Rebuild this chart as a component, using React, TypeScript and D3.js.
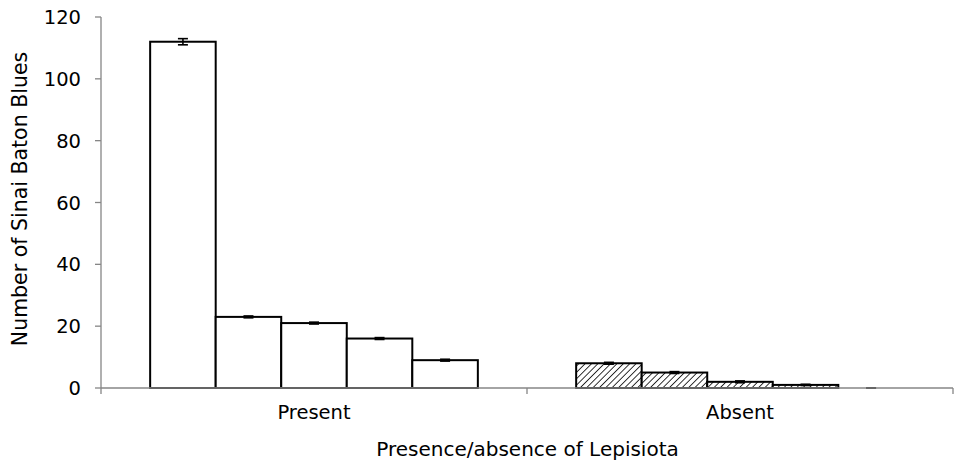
import React from "react";
import * as d3 from "d3";

// Category groups and per-series counts (five series in each group)
const categories = ["Present", "Absent"];
const seriesKeys = ["s1", "s2", "s3", "s4", "s5"];
const presentValues = [112, 23, 21, 16, 9];
const absentValues = [8, 5, 2, 1, 0];
const presentErrors = [1, 0.3, 0.3, 0.3, 0.3];
const absentErrors = [0.3, 0.3, 0.3, 0.2, 0];
const yTicks = [0, 20, 40, 60, 80, 100, 120];

const W = 954;
const H = 468;
const margin = { left: 101, right: 1, top: 17, bottom: 80 };
const axisColor = "#868686";
const font = "'DejaVu Sans', Verdana, sans-serif";
const fs = 19.5;

export default function App() {
  const x0 = d3
    .scaleBand<string>()
    .domain(categories)
    .range([margin.left, W - margin.right])
    .paddingInner(0)
    .paddingOuter(0);
  // Inner band: 5 bars with a 150% gap split across both sides
  const bw = x0.bandwidth();
  const barW = bw / (5 + 1.5);
  const x1 = d3
    .scaleBand<string>()
    .domain(seriesKeys)
    .range([barW * 0.75, barW * 0.75 + barW * 5]);
  const y = d3.scaleLinear().domain([0, 120]).range([H - margin.bottom, margin.top]);

  const groups = [
    { cat: "Present", values: presentValues, errors: presentErrors, hatched: false },
    { cat: "Absent", values: absentValues, errors: absentErrors, hatched: true },
  ];

  const baseY = y(0);
  const xTickPositions = [margin.left, ...categories.map((c) => (x0(c) as number) + bw)];

  return (
    <svg width={W} height={H} style={{ position: "absolute", left: 0, top: 0, background: "#fff" }}>
      <defs>
        <pattern id="hatch" patternUnits="userSpaceOnUse" width="4.5" height="4.5" patternTransform="rotate(45)">
          <rect width="4.5" height="4.5" fill="#fff" />
          <line x1="0" y1="0" x2="0" y2="4.5" stroke="#111" strokeWidth="1.7" />
        </pattern>
      </defs>

      {/* bars */}
      {groups.map((g) =>
        g.values.map((v, i) => {
          const xb = (x0(g.cat) as number) + (x1(seriesKeys[i]) as number);
          const yt = y(v);
          return (
            <rect
              key={g.cat + i}
              x={xb}
              y={yt}
              width={x1.bandwidth()}
              height={baseY - yt}
              fill={g.hatched ? "url(#hatch)" : "#fff"}
              stroke="#000"
              strokeWidth={2}
            />
          );
        })
      )}

      {/* error bars */}
      {groups.map((g) =>
        g.values.map((v, i) => {
          const cx = (x0(g.cat) as number) + (x1(seriesKeys[i]) as number) + x1.bandwidth() / 2;
          const e = g.errors[i];
          const yHi = y(v + e);
          const yLo = y(v - e);
          return (
            <g key={"e" + g.cat + i} stroke="#000" strokeWidth={1.6}>
              <line x1={cx} x2={cx} y1={yHi} y2={yLo} />
              <line x1={cx - 5} x2={cx + 5} y1={yHi} y2={yHi} />
              <line x1={cx - 5} x2={cx + 5} y1={yLo} y2={yLo} />
            </g>
          );
        })
      )}

      {/* y axis */}
      <line x1={margin.left} x2={margin.left} y1={y(120)} y2={baseY} stroke={axisColor} strokeWidth={1.3} />
      {yTicks.map((t) => (
        <g key={t}>
          <line x1={margin.left - 6} x2={margin.left} y1={y(t)} y2={y(t)} stroke={axisColor} strokeWidth={1.3} />
          <text
            x={margin.left - 20}
            y={y(t)}
            dy="0.36em"
            textAnchor="end"
            fontFamily={font}
            fontSize={fs}
            fill="#000"
          >
            {t}
          </text>
        </g>
      ))}

      {/* x axis */}
      <line x1={margin.left} x2={W - margin.right} y1={baseY} y2={baseY} stroke={axisColor} strokeWidth={1.3} />
      {xTickPositions.map((px, i) => (
        <line key={i} x1={px} x2={px} y1={baseY} y2={baseY + 6} stroke={axisColor} strokeWidth={1.3} />
      ))}
      {categories.map((c) => (
        <text
          key={c}
          x={(x0(c) as number) + bw / 2}
          y={baseY + 31}
          textAnchor="middle"
          fontFamily={font}
          fontSize={fs}
          fill="#000"
        >
          {c}
        </text>
      ))}

      {/* axis titles */}
      <text
        x={(margin.left + W) / 2}
        y={456}
        textAnchor="middle"
        fontFamily={font}
        fontSize={20}
        fill="#000"
      >
        Presence/absence of Lepisiota
      </text>
      <text
        transform={`translate(27, 199) rotate(-90)`}
        textAnchor="middle"
        fontFamily={font}
        fontSize={20.5}
        fill="#000"
      >
        Number of Sinai Baton Blues
      </text>
    </svg>
  );
}
